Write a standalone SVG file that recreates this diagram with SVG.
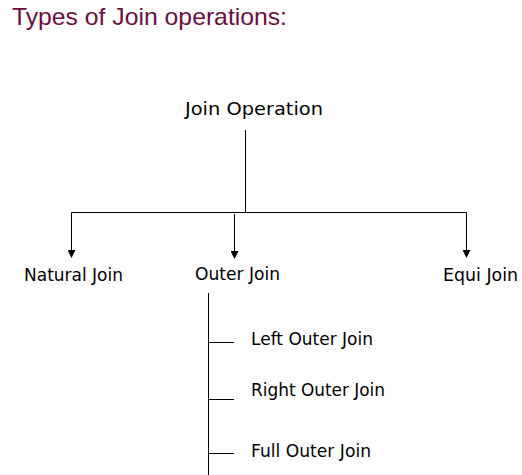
<svg xmlns="http://www.w3.org/2000/svg" width="522" height="475" viewBox="0 0 522 475">
<defs>
<marker id="arr" markerWidth="8" markerHeight="8" refX="7" refY="4" orient="auto" markerUnits="userSpaceOnUse">
<path d="M0,0 L8,4 L0,8 Z" fill="#000"/>
</marker>
</defs>
<style>
.t{font-family:"DejaVu Sans",Verdana,sans-serif;font-size:17px;fill:#000}
.title{font-family:"Liberation Sans",Arial,sans-serif;font-size:24px;fill:#6a1040}
.ln{stroke:#000;stroke-width:1;fill:none}
</style>
<rect width="522" height="475" fill="#fff"/>
<text class="title" x="12" y="25" textLength="275" lengthAdjust="spacingAndGlyphs">Types of Join operations:</text>
<g id="join-operation"><text class="t" x="185" y="115" textLength="138" lengthAdjust="spacingAndGlyphs">Join Operation</text></g>
<g id="natural-join"><text class="t" x="24" y="281" textLength="99" lengthAdjust="spacingAndGlyphs">Natural Join</text></g>
<g id="outer-join"><text class="t" x="195" y="280" textLength="85" lengthAdjust="spacingAndGlyphs">Outer Join</text></g>
<g id="equi-join"><text class="t" x="443" y="281" textLength="75" lengthAdjust="spacingAndGlyphs">Equi Join</text></g>
<g id="left-outer-join"><text class="t" x="251" y="345" textLength="122" lengthAdjust="spacingAndGlyphs">Left Outer Join</text></g>
<g id="right-outer-join"><text class="t" x="251" y="396" textLength="134" lengthAdjust="spacingAndGlyphs">Right Outer Join</text></g>
<g id="full-outer-join"><text class="t" x="251" y="457" textLength="120" lengthAdjust="spacingAndGlyphs">Full Outer Join</text></g>
<g id="connectors">
<path class="ln" d="M245.5,130 V212.5"/>
<path class="ln" d="M71.5,212.5 H466.5"/>
<path class="ln" d="M71.5,212.5 V257" marker-end="url(#arr)"/>
<path class="ln" d="M234.5,214 V258" marker-end="url(#arr)"/>
<path class="ln" d="M466.5,212.5 V257" marker-end="url(#arr)"/>
<path class="ln" d="M208.5,293 V475"/>
<path class="ln" d="M208,342.5 H234"/>
<path class="ln" d="M208,399.5 H234"/>
<path class="ln" d="M208,453.5 H234"/>
</g>
</svg>
